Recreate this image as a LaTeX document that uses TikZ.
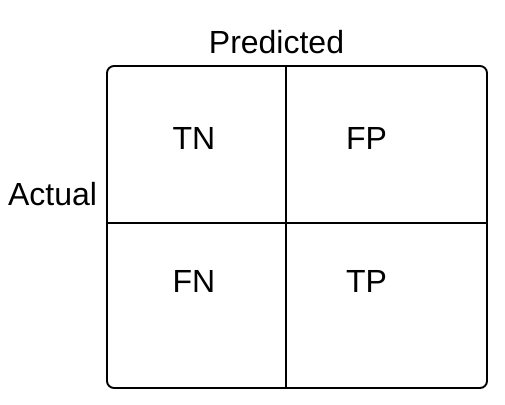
\documentclass[tikz,border=0pt]{standalone}
\usepackage{fontspec}
\setmainfont{Liberation Sans}
\begin{document}
\begin{tikzpicture}[x=1pt,y=-1pt,
  lbl/.style={font=\fontsize{32}{36}\selectfont, anchor=base, inner sep=0pt},
  grid/.style={line width=1.9pt, black}]
\useasboundingbox (0,0) rectangle (505,404);
\draw[grid, rounded corners=7pt] (107,66) rectangle (487,388);
\coordinate (vt) at (286,66);
\coordinate (vb) at (286,387);
\coordinate (hl) at (107,223);
\coordinate (hr) at (488,223);
\draw[grid] (vt) -- (vb);
\draw[grid] (hl) -- (hr);
\node[lbl] (pred) at (276.5,53) {Predicted};
\node[lbl] (act) at (52.5,205) {Actual};
\node[lbl] (tn) at (194,149) {TN};
\node[lbl] (fp) at (366.5,149) {FP};
\node[lbl] (fn) at (194,292) {FN};
\node[lbl] (tp) at (366.5,292) {TP};
\end{tikzpicture}
\end{document}
